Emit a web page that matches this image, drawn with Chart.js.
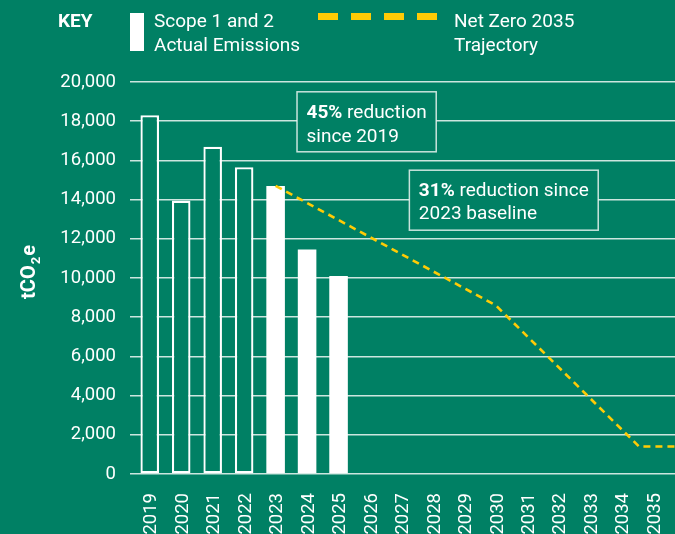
<!DOCTYPE html>
<html>
<head>
<meta charset="utf-8">
<script src="https://cdn.jsdelivr.net/npm/chart.js@4.4.1/dist/chart.umd.min.js"></script>
<style>
  html, body { margin: 0; padding: 0; background: #008064; }
  #wrap { position: relative; width: 675px; height: 534px; }
  canvas { display: block; }
</style>
</head>
<body>
<div id="wrap"><canvas id="chart" width="675" height="534"></canvas></div>
<script>
// ---- Data ----
const categories = ['2019','2020','2021','2022','2023','2024','2025','2026','2027',
                    '2028','2029','2030','2031','2032','2033','2034','2035'];
const actualEmissions = [18300, 13950, 16700, 15650, 14700, 11450, 10100,
                         null, null, null, null, null, null, null, null, null, null];
const baselineYear = '2023';
// Net Zero trajectory: positions on the category axis (index) and values
const trajectoryPos = [4, 11, 15.55, 16.75];
const trajectoryVal = [14700, 8600, 1400, 1400];
const yMin = 0, yMax = 20000, yStep = 2000;
const legendLabels = { key: 'KEY', actual: ['Scope 1 and 2', 'Actual Emissions'], trajectory: ['Net Zero 2035', 'Trajectory'] };
const noteSince2019 = { bold: '45%', rest: [' reduction', 'since 2019'] };
const noteSince2023 = { bold: '31%', rest: [' reduction since', '2023 baseline'] };
const yTitle = { main: 'tCO', sub: '2', tail: 'e' };

// ---- Style ----
const GREEN = '#008064';
const WHITE = '#ffffff';
const YELLOW = '#FFCB05';
const GRID = 'rgba(240,248,245,0.85)';
const FONT = 'Roboto, "Noto Sans", sans-serif';

const baseIdx = categories.indexOf(baselineYear);

const overlayPlugin = {
  id: 'overlay',
  afterDraw(chart) {
    const c = chart.ctx;
    const xs = chart.scales.xLine, ys = chart.scales.y;
    c.save();
    c.fillStyle = WHITE;
    c.textBaseline = 'alphabetic';

    // Legend
    c.font = 'bold 19px ' + FONT;
    c.fillText(legendLabels.key, 58, 27);
    c.fillRect(130, 13, 14, 38);
    c.font = '19px ' + FONT;
    c.fillText(legendLabels.actual[0], 154, 27);
    c.fillText(legendLabels.actual[1], 154, 51);
    c.fillStyle = YELLOW;
    for (let i = 0; i < 4; i++) c.fillRect(318 + i * 33, 13, 20, 7);
    c.fillStyle = WHITE;
    c.fillText(legendLabels.trajectory[0], 454, 27);
    c.fillText(legendLabels.trajectory[1], 454, 51);

    // Annotation boxes anchored to the scales
    function note(n, posX, valY, dy2) {
      const left = xs.getPixelForValue(posX);
      const top = ys.getPixelForValue(valY);
      c.font = 'bold 19px ' + FONT;
      const bw = c.measureText(n.bold).width;
      c.font = '19px ' + FONT;
      const w1 = bw + c.measureText(n.rest[0]).width;
      const w2 = c.measureText(n.rest[1]).width;
      const w = Math.max(w1, w2) + 19;
      const h = 60;
      c.fillStyle = GREEN;
      c.fillRect(left, top, w, h);
      c.strokeStyle = 'rgba(235,245,242,0.85)';
      c.lineWidth = 1.5;
      c.strokeRect(left, top, w, h);
      c.fillStyle = WHITE;
      c.font = 'bold 19px ' + FONT;
      c.fillText(n.bold, left + 9.5, top + 26);
      c.font = '19px ' + FONT;
      c.fillText(n.rest[0], left + 9.5 + bw, top + 26);
      c.fillText(n.rest[1], left + 9.5, top + 26 + dy2);
    }
    note(noteSince2019, 4.68, 19500, 24);
    note(noteSince2023, 8.25, 15500, 23);

    // Y axis title with subscript
    const cy = (chart.chartArea.top + chart.chartArea.bottom) / 2 - 5;
    c.translate(35, cy);
    c.rotate(-Math.PI / 2);
    c.font = 'bold 20px ' + FONT;
    const wMain = c.measureText(yTitle.main).width;
    c.font = 'bold 13px ' + FONT;
    const wSub = c.measureText(yTitle.sub).width;
    c.font = 'bold 20px ' + FONT;
    let x0 = -(wMain + wSub + c.measureText(yTitle.tail).width) / 2;
    c.fillStyle = WHITE;
    c.fillText(yTitle.main, x0, 0);
    c.font = 'bold 13px ' + FONT;
    c.fillText(yTitle.sub, x0 + wMain + 1, 5);
    c.font = 'bold 20px ' + FONT;
    c.fillText(yTitle.tail, x0 + wMain + wSub + 2, 0);
    c.restore();
  }
};

new Chart(document.getElementById('chart'), {
  data: {
    labels: categories,
    datasets: [
      {
        type: 'line',
        label: legendLabels.trajectory.join(' '),
        data: trajectoryPos.map((p, i) => ({ x: p, y: trajectoryVal[i] })),
        xAxisID: 'xLine',
        yAxisID: 'y',
        borderColor: YELLOW,
        borderWidth: 2.6,
        borderDash: [7, 5],
        pointRadius: 0,
        fill: false,
        tension: 0,
        clip: false,
        order: 1
      },
      {
        type: 'bar',
        label: legendLabels.actual.join(' '),
        data: actualEmissions,
        xAxisID: 'x',
        yAxisID: 'y',
        grouped: false,
        backgroundColor: ctx => ctx.dataIndex < baseIdx ? GREEN : WHITE,
        borderColor: WHITE,
        borderWidth: ctx => ctx.dataIndex < baseIdx ? 2.3 : 0,
        borderSkipped: false,
        categoryPercentage: 1,
        barPercentage: 0.59,
        order: 2
      }
    ]
  },
  options: {
    responsive: false,
    animation: false,
    events: [],
    layout: { padding: { top: 82, right: 0, left: 0, bottom: 0 } },
    plugins: { legend: { display: false }, tooltip: { enabled: false } },
    scales: {
      x: {
        type: 'category',
        offset: true,
        grid: { display: false, drawTicks: false },
        border: { display: false },
        ticks: {
          color: WHITE,
          font: { family: FONT, size: 18.5 },
          minRotation: 90,
          maxRotation: 90,
          autoSkip: false,
          padding: 19,
          labelOffset: 2
        },
        afterFit: s => { s.height = 60; s.paddingLeft = 0; s.paddingRight = 0; }
      },
      xLine: {
        type: 'linear',
        display: false,
        min: -0.5,
        max: categories.length - 0.5
      },
      y: {
        min: yMin,
        max: yMax,
        border: { display: false },
        grid: { color: GRID, lineWidth: 1.5, drawTicks: true, tickLength: 4, tickColor: GRID },
        ticks: {
          stepSize: yStep,
          color: WHITE,
          padding: 14,
          font: { family: FONT, size: 18.5 },
          callback: v => v.toLocaleString('en-US')
        },
        afterFit: s => { s.width = 134; s.paddingTop = 0; s.paddingBottom = 0; }
      },
      yR: {
        position: 'right',
        min: yMin,
        max: yMax,
        border: { display: false },
        grid: { drawOnChartArea: false, drawTicks: true, tickLength: 6, color: GRID, tickColor: GRID, lineWidth: 1.5 },
        ticks: { stepSize: yStep, display: false },
        afterFit: s => { s.width = 6; s.paddingTop = 0; s.paddingBottom = 0; }
      }
    }
  },
  plugins: [overlayPlugin]
});
</script>
</body>
</html>
